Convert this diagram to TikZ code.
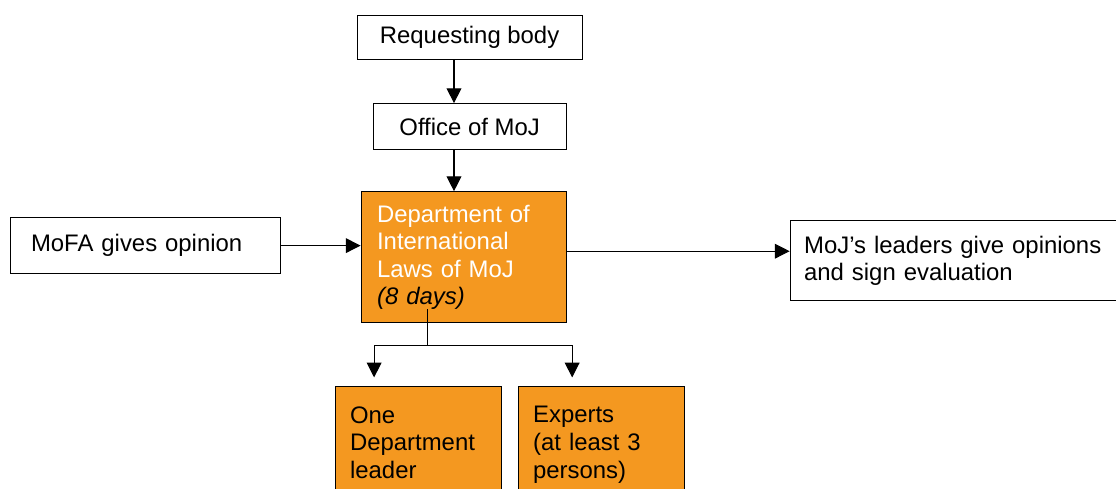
\documentclass[tikz,border=0pt]{standalone}
\usepackage{fontspec}
\setmainfont{Liberation Sans}
\usepackage{xcolor}
\usetikzlibrary{arrows.meta, positioning}
\definecolor{deptorange}{RGB}{244,152,32}

\begin{document}
\begin{tikzpicture}[>={Triangle[length=0.37cm, width=0.37cm]}, line width=0.75pt,
  font=\fontsize{17pt}{19.6pt}\selectfont,
  box/.style={draw, minimum height=1.1cm, inner sep=0pt},
  textbox/.style={draw, align=left, inner ysep=0.15cm},
  orangebox/.style={textbox, fill=deptorange}]
  \useasboundingbox (0,0) rectangle (27.9,-12.2);
  \node[box, minimum width=5.625cm] (req) at (11.74,-0.94) {Requesting body};
  \node[box, minimum width=4.825cm, minimum height=1.15cm, below=1.075cm of req] (office) {Office of MoJ};
  \node[orangebox, text=white, text width=4.325cm, inner xsep=0.4cm, minimum height=3.275cm, below=1.025cm of office, xshift=-0.15cm] (dept) {Department of\\International\\Laws of MoJ\\\textcolor{black}{\textit{(8 days)}}};
  \node[textbox, text width=5.7cm, inner xsep=0.525cm, minimum height=1.4cm, left=2cm of dept, yshift=0.29cm] (mofa) {MoFA gives opinion};
  \node[textbox, text width=7.5cm, inner xsep=0.35cm, minimum height=2cm, right=5.575cm of dept, yshift=-0.09cm] (lead) {MoJ’s leaders give opinions\\and sign evaluation};
  \node[orangebox, text width=3.4cm, inner xsep=0.375cm, minimum height=2.9cm, below right=1.575cm and -0.65cm of dept.south west] (one) {One\\Department\\leader\vphantom{)}};
  \node[orangebox, text width=3.4cm, inner xsep=0.375cm, minimum height=2.9cm, right=0.4cm of one] (exp) {Experts\\(at least 3\\persons)};
  % Request path
  \coordinate (a1) at ([xshift=-0.39cm]req.south);
  \draw[->] (a1) -- (a1 |- office.north);
  \coordinate (a2) at ([xshift=-0.39cm]office.south);
  \draw[->] (a2) -- (a2 |- dept.north);
  % Opinions in and out
  \draw[->] (mofa) -- (mofa -| dept.west);
  \coordinate (a3) at ([yshift=0.15cm]dept.east);
  \draw[->] (a3) -- (a3 -| lead.west);
  % Split to the evaluators
  \coordinate (stem) at ([xshift=-0.91cm, yshift=0.35cm]dept.south);
  \coordinate (split) at ([xshift=-0.91cm, yshift=-0.55cm]dept.south);
  \draw (stem) -- (split);
  \draw[->] (split) -| ([xshift=-1.1cm, yshift=0.22cm]one.north);
  \draw[->] (split) -| ([xshift=-0.725cm, yshift=0.22cm]exp.north);
\end{tikzpicture}
\end{document}
